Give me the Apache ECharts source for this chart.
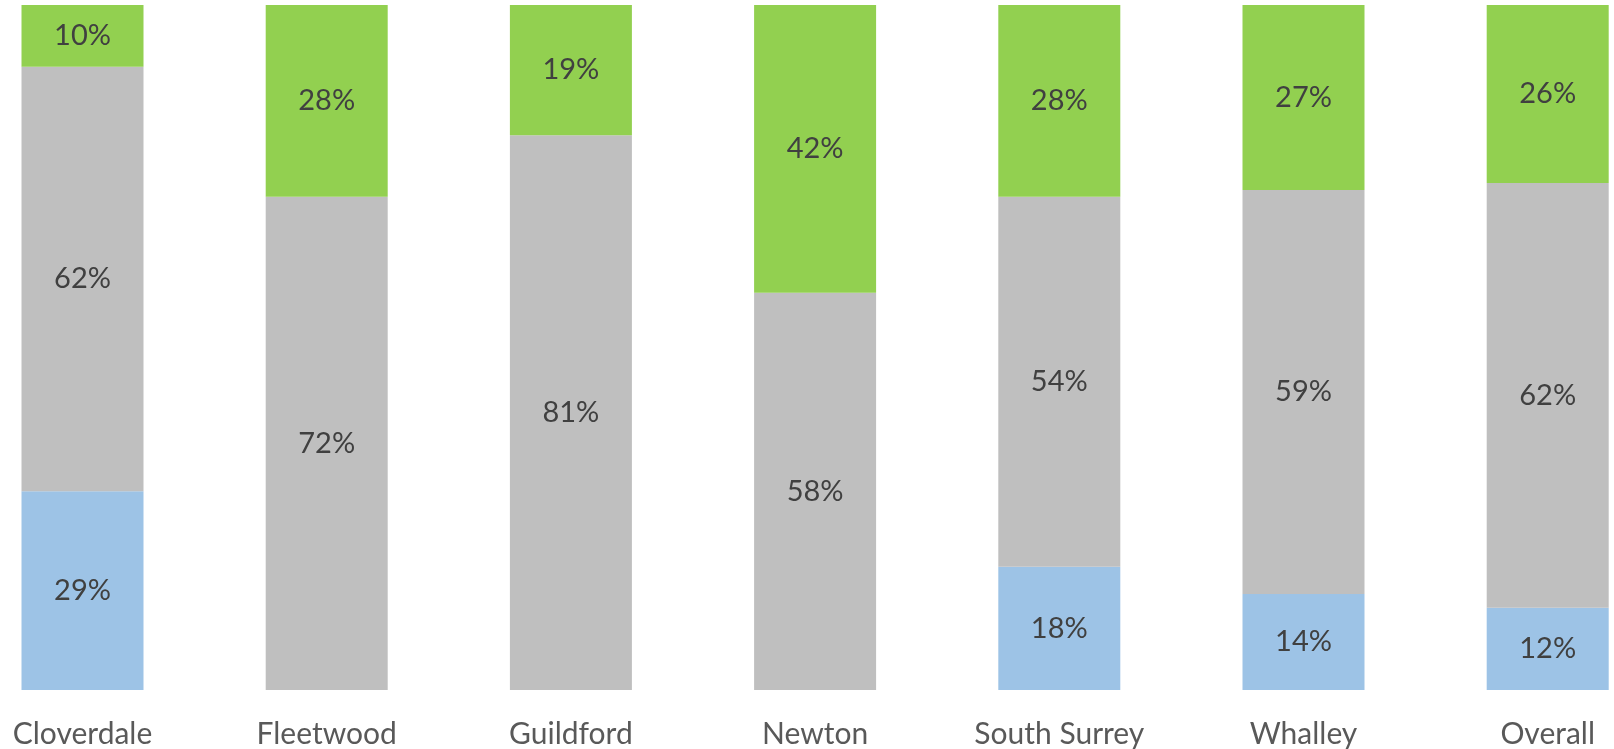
<!DOCTYPE html>
<html>
<head>
<meta charset="utf-8">
<script src="https://cdn.jsdelivr.net/npm/echarts@6/dist/echarts.min.js"></script>
<style>
  html, body { margin: 0; padding: 0; background: #ffffff; }
  #chart { width: 1614px; height: 749px; }
</style>
</head>
<body>
<div id="chart"></div>
<script>
// Share of responses by location (percent)
const categories = ['Cloverdale', 'Fleetwood', 'Guildford', 'Newton', 'South Surrey', 'Whalley', 'Overall'];
const blueValues  = [29, null, null, null, 18, 14, 12];
const grayValues  = [62, 72, 81, 58, 54, 59, 62];
const greenValues = [10, 28, 19, 42, 28, 27, 26];

const FONT = 'Lato, "Open Sans", sans-serif';

function stackSeries(name, data, color) {
  return {
    name: name,
    type: 'bar',
    stack: 'share',
    data: data,
    barWidth: 122,
    itemStyle: { color: color },
    label: {
      show: true,
      position: 'inside',
      formatter: p => p.value + '%',
      color: '#404040',
      fontFamily: FONT,
      fontSize: 29
    },
    emphasis: { disabled: true }
  };
}

const chart = echarts.init(document.getElementById('chart'), null, { renderer: 'canvas' });
chart.setOption({
  animation: false,
  backgroundColor: '#ffffff',
  grid: {
    left: -39.6,
    right: -55.8,
    top: 5,
    bottom: 59,
    containLabel: false,
    outerBoundsMode: 'none'
  },
  xAxis: {
    type: 'category',
    data: categories,
    axisLine: { show: false },
    axisTick: { show: false },
    axisLabel: {
      color: '#595959',
      fontFamily: FONT,
      fontSize: 30,
      margin: 29,
      interval: 0
    }
  },
  yAxis: {
    type: 'value',
    min: 0,
    max: 100,
    show: false,
    splitLine: { show: false }
  },
  series: [
    stackSeries('blue', blueValues, '#9DC3E6'),
    stackSeries('gray', grayValues, '#BFBFBF'),
    stackSeries('green', greenValues, '#92D050')
  ]
});
</script>
</body>
</html>
